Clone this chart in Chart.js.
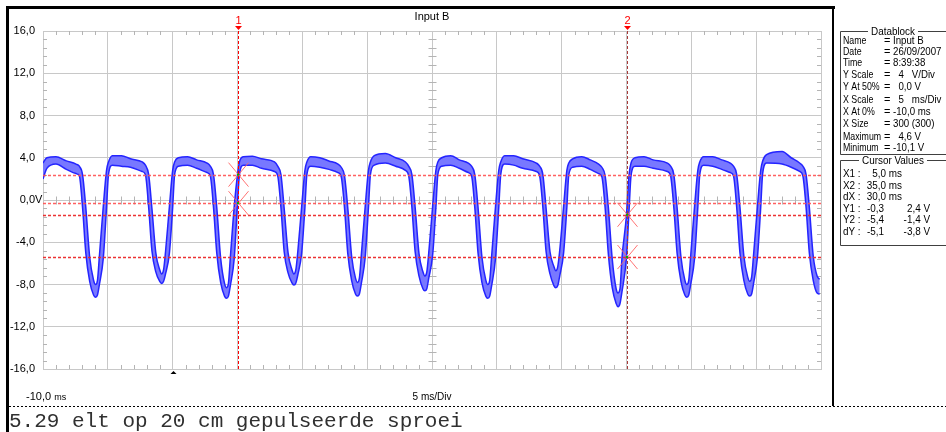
<!DOCTYPE html>
<html>
<head>
<meta charset="utf-8">
<script src="https://cdn.jsdelivr.net/npm/chart.js@4.4.1/dist/chart.umd.min.js"></script>
<style>
body { margin: 0; background: #fff; }
canvas { display: block; }
</style>
</head>
<body>
<canvas id="scope" width="946" height="432"></canvas>
<script>
// time (ms) and envelope of the trace (V)
const times = [
  -10.0, -9.7, -9.0, -8.2, -7.45, -7.2,
  -6.95, -6.7, -6.4, -6.1, -5.95, -5.8, -5.65, -5.35, -5.1, -4.95,
  -4.65, -3.95, -3.25, -2.35, -2.1,
  -1.85, -1.6, -1.3, -1.0, -0.85, -0.7, -0.55, -0.25, 0.0, 0.15,
  0.45, 1.15, 1.85, 2.65, 2.9,
  3.15, 3.4, 3.7, 4.0, 4.15, 4.3, 4.45, 4.75, 5.0, 5.15,
  5.45, 6.15, 6.85, 7.85, 8.1,
  8.35, 8.6, 8.9, 9.2, 9.35, 9.5, 9.65, 9.95, 10.2, 10.35,
  10.65, 11.35, 12.05, 12.75, 13.0,
  13.25, 13.5, 13.8, 14.1, 14.25, 14.4, 14.55, 14.85, 15.1, 15.25,
  15.55, 16.4, 17.2, 17.95, 18.2,
  18.45, 18.7, 19.0, 19.3, 19.45, 19.6, 19.75, 20.05, 20.3, 20.45,
  20.75, 21.45, 22.1, 22.8, 23.05,
  23.3, 23.55, 23.85, 24.15, 24.3, 24.45, 24.6, 24.9, 25.15, 25.3,
  25.6, 26.3, 27.0, 28.05, 28.3,
  28.55, 28.8, 29.1, 29.4, 29.55, 29.7, 29.85, 30.15, 30.4, 30.55,
  30.85, 31.55, 32.2, 32.85, 33.1,
  33.35, 33.6, 33.9, 34.2, 34.35, 34.5, 34.65, 35.0, 35.2, 35.35,
  35.65, 36.35, 37.05, 38.15, 38.4,
  38.65, 38.9, 39.2, 39.5, 39.65, 39.8, 39.95, 40.25, 40.5, 40.65,
  40.95, 41.65, 42.35, 43.0, 43.25,
  43.5, 43.75, 44.05, 44.35, 44.5, 44.65, 44.8, 45.1, 45.35, 45.5,
  45.8, 47.0, 47.7, 48.35, 48.6,
  48.85, 49.1, 49.4, 49.7, 49.9
];
const upper = [
  3.5, 4.0, 4.1, 3.7, 3.4, 3.2,
  2.4, -0.7, -5.4, -7.6, -8.0, -7.6, -5.3, -0.6, 2.8, 3.6,
  4.2, 4.2, 3.9, 3.6, 3.3,
  2.4, -0.8, -5.0, -6.6, -7.0, -6.6, -4.9, -0.6, 2.8, 3.6,
  4.0, 4.1, 3.8, 3.5, 3.2,
  2.4, -0.7, -5.5, -7.9, -8.3, -7.9, -5.4, -0.6, 2.4, 3.6,
  4.1, 4.15, 3.9, 3.6, 3.2,
  2.4, -0.8, -5.0, -6.6, -7.0, -6.6, -4.9, -0.6, 2.8, 3.6,
  4.1, 4.0, 3.7, 3.4, 3.1,
  2.3, -0.7, -5.3, -7.4, -7.8, -7.4, -5.2, -0.6, 2.8, 3.6,
  4.2, 4.4, 4.0, 3.6, 3.2,
  2.4, -0.7, -5.1, -6.8, -7.2, -6.8, -5.0, -0.6, 2.8, 3.6,
  4.0, 4.2, 3.8, 3.5, 3.2,
  2.4, -0.7, -5.4, -7.6, -8.0, -7.6, -5.3, -0.6, 2.8, 3.6,
  4.2, 4.2, 3.9, 3.5, 3.2,
  2.4, -0.8, -4.9, -6.3, -6.7, -6.3, -4.8, -0.6, 2.8, 3.5,
  3.9, 4.1, 3.8, 3.4, 3.1,
  2.3, -0.7, -5.6, -8.4, -8.8, -8.4, -5.5, -1.4, 2.4, 3.5,
  4.0, 4.1, 3.8, 3.5, 3.2,
  2.4, -0.7, -5.4, -7.6, -8.0, -7.6, -5.3, -0.6, 2.8, 3.6,
  4.1, 4.1, 3.8, 3.5, 3.2,
  2.4, -0.7, -5.3, -7.3, -7.7, -7.3, -5.2, -0.6, 2.8, 3.7,
  4.3, 4.6, 4.0, 3.5, 3.2,
  2.4, -0.7, -5.3, -7.2, -7.5
];
const lower = [
  2.0, 3.0, 3.4, 2.9, 2.5, 2.3,
  -0.7, -5.0, -7.7, -9.0, -9.2, -9.0, -8.0, -5.5, -0.7, 2.4,
  3.3, 3.2, 3.1, 2.7, 2.4,
  -0.7, -4.8, -6.8, -7.7, -7.9, -7.7, -7.0, -5.0, -0.7, 2.4,
  3.2, 3.3, 3.0, 2.6, 2.3,
  -0.7, -5.0, -7.8, -9.1, -9.3, -9.1, -8.1, -5.5, -0.3, 2.4,
  3.3, 3.3, 3.0, 2.7, 2.3,
  -0.7, -4.9, -6.9, -7.85, -8.05, -7.85, -7.1, -5.0, -0.7, 2.4,
  3.2, 3.1, 2.9, 2.6, 2.2,
  -0.7, -5.0, -7.6, -8.9, -9.1, -8.9, -7.9, -5.4, -0.7, 2.4,
  3.3, 3.5, 3.2, 2.8, 2.3,
  -0.7, -4.9, -7.2, -8.4, -8.6, -8.4, -7.4, -5.2, -0.7, 2.4,
  3.2, 3.3, 3.0, 2.6, 2.3,
  -0.7, -5.0, -7.8, -9.1, -9.3, -9.1, -8.1, -5.5, -0.7, 2.4,
  3.4, 3.3, 3.0, 2.7, 2.3,
  -0.7, -4.9, -7.0, -8.1, -8.3, -8.1, -7.2, -5.0, -0.7, 2.4,
  3.1, 3.2, 2.9, 2.5, 2.2,
  -0.7, -5.1, -8.3, -9.8, -10.1, -9.8, -8.7, -5.4, -0.9, 2.3,
  3.2, 3.2, 3.0, 2.7, 2.3,
  -0.7, -5.0, -7.7, -9.0, -9.2, -9.0, -8.0, -5.5, -0.7, 2.4,
  3.3, 3.2, 2.9, 2.6, 2.3,
  -0.7, -5.0, -7.6, -8.9, -9.1, -8.9, -7.9, -5.4, -0.7, 2.5,
  3.5, 3.4, 3.1, 2.7, 2.3,
  -0.7, -5.0, -7.6, -8.8, -8.9
];

const yTicks = [16, 12, 8, 4, 0, -4, -8, -12, -16];
const yTickLabels = ['16,0', '12,0', '8,0', '4,0', '0,0V', '-4,0', '-8,0', '-12,0', '-16,0'];
const chartTitle = 'Input B';
const xStartLabel = ['-10,0', 'ms'];
const xScaleLabel = '5 ms/Div';
const triggerTime = 0;

// cursors: time and the two levels each one picks off
const cursorTimes = [5, 35];
const cursorLevels = [[2.4, -0.3], [-1.4, -5.4]];

const dataBlock = [
  ['Name', '=', 'Input B'],
  ['Date', '=', '26/09/2007'],
  ['Time', '=', '8:39:38'],
  ['Y Scale', '=', '  4   V/Div'],
  ['Y At 50%', '=', '  0,0 V'],
  ['X Scale', '=', '  5   ms/Div'],
  ['X At 0%', '=', '-10,0 ms'],
  ['X Size', '=', '300 (300)'],
  ['Maximum', '=', '  4,6 V'],
  ['Minimum', '=', '-10,1 V']
];
const cursorValues = [
  ['X1 :', '', '5,0 ms'],
  ['X2 :', '', '35,0 ms'],
  ['dX :', '', '30,0 ms'],
  ['Y1 :', '-0,3', '2,4 V'],
  ['Y2 :', '-5,4', '-1,4 V'],
  ['dY :', '-5,1', '-3,8 V']
];
const caption = '5.29 elt op 20 cm gepulseerde sproei';

const SANS = '"Liberation Sans", Arial, sans-serif';

// the scope software uses a narrow bitmap font: squeeze the text a bit
function narrowText(c, s, x, y, k) {
  c.fillText(s, x, y, c.measureText(s).width * (k || 0.9));
}

function etchedBox(c, x0, y0, x1, y1, title) {
  c.strokeStyle = '#404040';
  c.lineWidth = 1;
  c.font = '11px ' + SANS;
  const tw = c.measureText(title).width * 0.9;
  const cx = x0 + 53;
  c.beginPath();
  c.moveTo(cx - tw / 2 - 3, y0 + 0.5);
  c.lineTo(x0 + 0.5, y0 + 0.5);
  c.lineTo(x0 + 0.5, y1 + 0.5);
  c.lineTo(x1, y1 + 0.5);
  c.moveTo(cx + tw / 2 + 3, y0 + 0.5);
  c.lineTo(x1, y0 + 0.5);
  c.stroke();
  c.fillStyle = '#000';
  c.textAlign = 'center';
  c.textBaseline = 'middle';
  c.fillText(title, cx, y0 + 1, tw);
}

const scopeDecor = {
  id: 'scopeDecor',
  beforeDraw(chart) {
    const c = chart.ctx;
    c.save();
    c.fillStyle = '#fff';
    c.fillRect(0, 0, chart.width, chart.height);
    c.restore();
  },
  beforeDatasetsDraw(chart) {
    const {ctx: c, chartArea: a, scales: {x, y}} = chart;
    c.save();
    c.strokeStyle = '#b4b4b4';
    c.lineWidth = 1;
    c.beginPath();
    const y0 = Math.round(y.getPixelForValue(0)) + 0.5;
    const xc = Math.round(x.getPixelForValue(20)) + 0.5;
    for (let t = -10; t <= 50; t++) {
      if (t % 5 === 0) continue;
      const px = Math.round(x.getPixelForValue(t)) + 0.5;
      c.moveTo(px, a.top); c.lineTo(px, a.top + 4);
      c.moveTo(px, a.bottom); c.lineTo(px, a.bottom - 4);
      c.moveTo(px, y0 - 4); c.lineTo(px, y0 + 4);
    }
    for (let i = -20; i <= 20; i++) {
      if (i % 5 === 0) continue;
      const py = Math.round(y.getPixelForValue(i * 0.8)) + 0.5;
      c.moveTo(a.left, py); c.lineTo(a.left + 4, py);
      c.moveTo(a.right, py); c.lineTo(a.right - 4, py);
      c.moveTo(xc - 4, py); c.lineTo(xc + 4, py);
    }
    c.stroke();
    c.restore();
  },
  afterDatasetsDraw(chart) {
    const {ctx: c, chartArea: a, scales: {x, y}} = chart;
    c.save();
    // horizontal cursor levels
    cursorLevels.forEach((lv, k) => {
      c.strokeStyle = k === 0 ? 'rgba(255,80,80,0.9)' : 'rgba(235,40,40,0.95)';
      c.lineWidth = k === 0 ? 1.6 : 1.3;
      c.setLineDash([3, 2]);
      lv.forEach(v => {
        const py = Math.round(y.getPixelForValue(v)) + 0.5;
        c.beginPath(); c.moveTo(a.left, py); c.lineTo(a.right, py); c.stroke();
      });
    });
    // vertical cursors
    cursorTimes.forEach((t, k) => {
      const px = Math.round(x.getPixelForValue(t)) + 0.5;
      c.strokeStyle = k === 0 ? '#ff0000' : '#a83a3a';
      c.lineWidth = 1;
      c.setLineDash([3, 2]);
      c.beginPath(); c.moveTo(px, a.top); c.lineTo(px, a.bottom); c.stroke();
      c.setLineDash([]);
      // crosses on the levels
      c.strokeStyle = 'rgba(255,100,100,0.9)';
      cursorLevels[k].forEach(v => {
        const py = y.getPixelForValue(v);
        c.beginPath();
        c.moveTo(px - 10, py - 12); c.lineTo(px + 10, py + 12);
        c.moveTo(px + 10, py - 12); c.lineTo(px - 10, py + 12);
        c.stroke();
        c.fillStyle = '#00b000';
        c.fillRect(px - 1.5, py - 1, 2, 2);
      });
      // label and marker on top
      c.fillStyle = '#ff0000';
      c.font = '11px ' + SANS;
      c.textAlign = 'center';
      c.textBaseline = 'middle';
      c.fillText(String(k + 1), px, a.top - 10);
      c.beginPath();
      c.moveTo(px - 3.5, a.top - 5); c.lineTo(px + 3.5, a.top - 5); c.lineTo(px, a.top - 1);
      c.closePath(); c.fill();
    });
    c.restore();
  },
  afterDraw(chart) {
    const {ctx: c, chartArea: a, scales: {x, y}} = chart;
    c.save();
    // black frame of the scope window
    c.fillStyle = '#000';
    c.fillRect(6, 6, 3, 426);
    c.fillRect(6, 6, 829, 3);
    c.fillRect(832, 6, 2, 400);
    // dotted rule above the caption
    c.strokeStyle = '#000';
    c.lineWidth = 1;
    c.setLineDash([2, 2]);
    c.beginPath(); c.moveTo(9, 406.5); c.lineTo(946, 406.5); c.stroke();
    c.setLineDash([]);

    // y labels
    c.font = '11px ' + SANS;
    c.fillStyle = '#000';
    c.textBaseline = 'middle';
    yTicks.forEach((v, i) => {
      const py = y.getPixelForValue(v);
      let lab = yTickLabels[i];
      if (lab.endsWith('V')) {
        c.textAlign = 'left';
        c.fillText('V', a.left - 8, py);
        lab = lab.slice(0, -1);
      }
      c.textAlign = 'right';
      c.fillText(lab, a.left - 8, py);
    });

    // title
    c.textAlign = 'center';
    c.fillText(chartTitle, x.getPixelForValue(20), 17);

    // x labels
    c.textAlign = 'left';
    c.font = '11px ' + SANS;
    c.fillText(xStartLabel[0], 26, 397);
    const w0 = c.measureText(xStartLabel[0] + ' ').width;
    c.font = '9px ' + SANS;
    c.fillText(xStartLabel[1], 26 + w0, 397.5);
    c.textAlign = 'center';
    c.font = '10px ' + SANS;
    c.fillText(xScaleLabel, x.getPixelForValue(20), 397.5);

    // trigger marker
    const tp = Math.round(x.getPixelForValue(triggerTime)) + 0.5;
    c.beginPath();
    c.moveTo(tp - 3, a.bottom + 5); c.lineTo(tp + 3, a.bottom + 5); c.lineTo(tp, a.bottom + 2);
    c.closePath(); c.fill();

    // datablock
    etchedBox(c, 840, 31, 950, 154, 'Datablock');
    c.font = '11px ' + SANS;
    c.textBaseline = 'middle';
    c.textAlign = 'left';
    const rowY = [41, 52, 63, 75, 87, 100, 112, 124, 137, 148];
    dataBlock.forEach((r, i) => {
      narrowText(c, r[0], 843, rowY[i], 0.8);
      narrowText(c, r[1], 884, rowY[i], 1);
      narrowText(c, r[2], 893, rowY[i], 0.88);
    });
    etchedBox(c, 840, 160, 950, 245, 'Cursor Values');
    c.font = '11px ' + SANS;
    c.textBaseline = 'middle';
    const cvY = [174, 186, 197, 209, 220, 232];
    cursorValues.forEach((r, i) => {
      c.textAlign = 'left';
      narrowText(c, r[0], 843, cvY[i]);
      c.textAlign = 'right';
      if (r[1]) {
        narrowText(c, r[1], 884, cvY[i]);
        narrowText(c, r[2], 930, cvY[i]);
      } else {
        narrowText(c, r[2], 902, cvY[i]);
      }
    });

    // caption
    c.font = '21px "Liberation Mono", "Courier New", monospace';
    c.fillStyle = '#303030';
    c.textAlign = 'left';
    c.textBaseline = 'alphabetic';
    c.fillText(caption, 9, 427);
    c.restore();
  }
};

new Chart(document.getElementById('scope').getContext('2d'), {
  type: 'line',
  data: {
    datasets: [{
      data: times.map((t, i) => ({x: t, y: upper[i]})),
      borderColor: '#2424ff',
      borderWidth: 1.5,
      pointRadius: 0,
      fill: false,
      cubicInterpolationMode: 'monotone'
    }, {
      data: times.map((t, i) => ({x: t, y: lower[i]})),
      borderColor: '#2424ff',
      backgroundColor: '#7878ff',
      borderWidth: 1.5,
      pointRadius: 0,
      fill: '-1',
      cubicInterpolationMode: 'monotone'
    }]
  },
  options: {
    responsive: false,
    animation: false,
    events: [],
    layout: { padding: { left: 43, top: 31, right: 125, bottom: 63 } },
    plugins: { legend: { display: false }, tooltip: { enabled: false } },
    scales: {
      x: {
        type: 'linear', min: -10, max: 50,
        ticks: { display: false, stepSize: 5 },
        grid: { color: '#c8c8c8', drawTicks: false },
        border: { color: '#c8c8c8' }
      },
      y: {
        type: 'linear', min: -16, max: 16,
        ticks: { display: false, stepSize: 4 },
        grid: { color: '#c8c8c8', drawTicks: false },
        border: { color: '#c8c8c8' }
      }
    }
  },
  plugins: [scopeDecor]
});
</script>
</body>
</html>
